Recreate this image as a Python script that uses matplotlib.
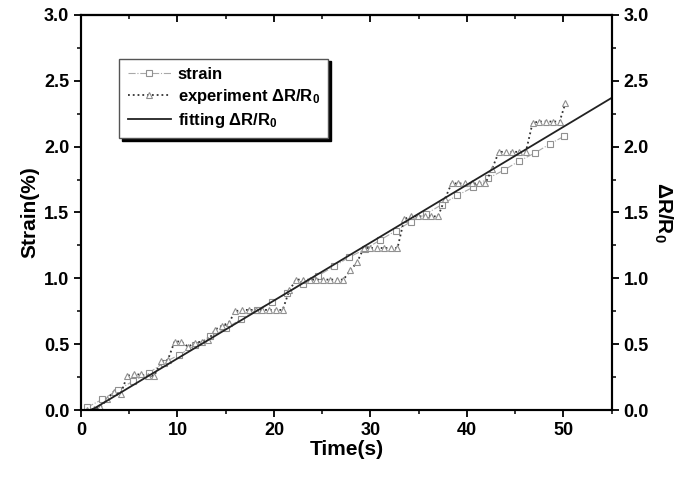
import matplotlib
matplotlib.use("Agg")
import matplotlib.pyplot as plt
from matplotlib.ticker import MultipleLocator

plt.rcParams['font.family'] = ['Liberation Sans', 'DejaVu Sans']
plt.rcParams['font.weight'] = 'bold'
plt.rcParams['mathtext.fontset'] = 'custom'
plt.rcParams['mathtext.rm'] = 'Liberation Sans:bold'
plt.rcParams['mathtext.it'] = 'Liberation Sans:bold'
plt.rcParams['mathtext.bf'] = 'Liberation Sans:bold'

# strain (squares)
strain_t = [0.6, 2.2, 3.8, 5.4, 7.0, 8.6, 10.2, 11.8, 13.4, 15.0, 16.6, 18.2, 19.8, 21.4,
            23.0, 24.6, 26.2, 27.8, 29.4, 31.0, 32.6, 34.2, 35.8, 37.4, 39.0, 40.6, 42.2,
            43.8, 45.4, 47.0, 48.6, 50.1]
strain_y = [0.02, 0.08, 0.15, 0.22, 0.28, 0.36, 0.42, 0.49, 0.56, 0.62, 0.69, 0.76, 0.82, 0.89,
            0.96, 1.02, 1.09, 1.16, 1.22, 1.29, 1.36, 1.43, 1.49, 1.56, 1.63, 1.69, 1.76,
            1.82, 1.89, 1.95, 2.02, 2.08]

# experiment dR/R0 (triangles)
exp_t = [0.6, 1.3, 2.0, 2.7, 3.4, 4.1, 4.8, 5.5, 6.2, 6.9, 7.6, 8.3, 9.0, 9.7, 10.4, 11.1,
         11.8, 12.5, 13.2, 13.9, 14.6, 15.3, 16.0, 16.7, 17.4, 18.1, 18.8, 19.5, 20.2, 20.9,
         21.6, 22.3, 23.0, 23.7, 24.4, 25.1, 25.8, 26.5, 27.2, 27.9, 28.6, 29.3, 30.0, 30.7,
         31.4, 32.1, 32.8, 33.5, 34.2, 34.9, 35.6, 36.3, 37.0, 37.7, 38.4, 39.1, 39.8, 40.5,
         41.2, 41.9, 42.6, 43.3, 44.0, 44.7, 45.4, 46.1, 46.8, 47.5, 48.2, 48.9, 49.6, 50.2]
exp_y = [0.00, 0.01, 0.02, 0.08, 0.14, 0.12, 0.26, 0.27, 0.27, 0.26, 0.26, 0.37, 0.38, 0.52,
         0.52, 0.48, 0.51, 0.52, 0.53, 0.61, 0.64, 0.66, 0.75, 0.76, 0.76, 0.76, 0.76, 0.76,
         0.76, 0.76, 0.91, 0.99, 0.99, 0.99, 0.99, 0.99, 0.99, 0.99, 0.99, 1.06, 1.12, 1.23,
         1.23, 1.23, 1.23, 1.23, 1.23, 1.45, 1.47, 1.47, 1.47, 1.47, 1.47, 1.60, 1.72, 1.72,
         1.72, 1.72, 1.72, 1.72, 1.83, 1.96, 1.96, 1.96, 1.96, 1.96, 2.18, 2.19, 2.19, 2.19,
         2.19, 2.33]

# fitting line
fit_t = [1.1, 55.0]
fit_y = [0.0, 2.37]

fig = plt.figure(figsize=(6.92, 4.79), dpi=100)
ax = fig.add_axes([0.117, 0.144, 0.767, 0.825])

ax.plot(strain_t, strain_y, linestyle='-.', color='#a8a8a8', linewidth=0.8,
        marker='s', markersize=4, markerfacecolor='white', markeredgecolor='#909090',
        markeredgewidth=0.8, label='strain')
ax.plot(exp_t, exp_y, linestyle=':', color='#333333', linewidth=1.3,
        marker='^', markersize=5, markerfacecolor='white', markeredgecolor='#909090',
        markeredgewidth=0.8, label=r'experiment $\Delta$R/R$_0$')
ax.plot(fit_t, fit_y, linestyle='-', color='#222222', linewidth=1.3,
        label=r'fitting $\Delta$R/R$_0$')

ax.set_xlim(0, 55)
ax.set_ylim(0, 3.0)
ax.xaxis.set_major_locator(MultipleLocator(10))
ax.xaxis.set_minor_locator(MultipleLocator(5))
ax.yaxis.set_major_locator(MultipleLocator(0.5))
ax.yaxis.set_minor_locator(MultipleLocator(0.25))
ax.tick_params(axis='both', which='major', labelsize=13, length=5, width=1.3)
ax.tick_params(axis='both', which='minor', length=3, width=1.1)
ax.tick_params(axis='both', which='both', direction='out')
for s in ax.spines.values():
    s.set_linewidth(1.5)

# top ticks pointing inward
secx = ax.secondary_xaxis('top')
secx.xaxis.set_major_locator(MultipleLocator(10))
secx.xaxis.set_minor_locator(MultipleLocator(5))
secx.tick_params(axis='x', which='major', direction='in', length=5, width=1.3, labeltop=False)
secx.tick_params(axis='x', which='minor', direction='in', length=3, width=1.1)
secx.spines['top'].set_linewidth(1.5)

ax.set_xlabel('Time(s)', fontsize=15, fontweight='bold', labelpad=1)
ax.set_ylabel('Strain(%)', fontsize=15, fontweight='bold', labelpad=3)

ax2 = ax.twinx()
ax2.set_ylim(0, 3.0)
ax2.yaxis.set_major_locator(MultipleLocator(0.5))
ax2.yaxis.set_minor_locator(MultipleLocator(0.25))
ax2.tick_params(axis='y', which='major', labelsize=13, length=5, width=1.3, direction='out')
ax2.tick_params(axis='y', which='minor', length=3, width=1.1, direction='out')
ax2.set_ylabel(r'$\Delta$R/R$_0$', fontsize=15, fontweight='bold', rotation=270, labelpad=18)
for s in ax2.spines.values():
    s.set_linewidth(1.5)

leg = ax.legend(loc='upper left', bbox_to_anchor=(0.072, 0.889), borderaxespad=0,
                fontsize=12, frameon=True, fancybox=False, handlelength=2.6,
                labelspacing=0.3, borderpad=0.5, handletextpad=0.4,
                shadow={'color': 'black', 'alpha': 1.0})
leg.get_frame().set_edgecolor('#555555')
leg.get_frame().set_linewidth(1.0)
leg.set_zorder(5)

fig.savefig('out.png', dpi=100)
